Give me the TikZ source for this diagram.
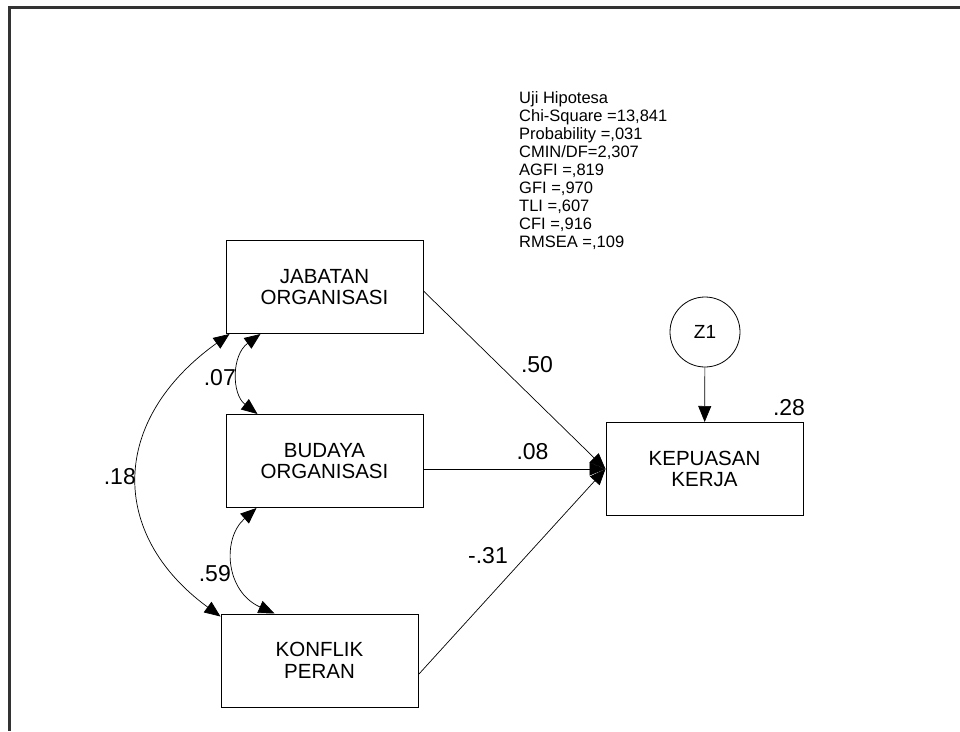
\documentclass[tikz,border=0pt]{standalone}
\usepackage{fontspec}
\setmainfont{Liberation Sans}
\usetikzlibrary{arrows.meta}

\tikzset{
  var/.style={rectangle,draw,line width=1pt,minimum width=197pt,minimum height=93pt,inner sep=0pt,align=center,font=\fontsize{20.5}{21.7}\selectfont},
  err/.style={circle,draw,line width=0.8pt,minimum size=70pt,inner sep=0pt,font=\fontsize{19}{21}\selectfont},
  coef/.style={inner sep=0pt,font=\fontsize{23}{25}\selectfont},
  reg/.style={draw,line width=0.7pt,-{Triangle[length=16pt,width=13pt]}},
  cov/.style={draw,line width=0.7pt,{Triangle[length=16pt,width=13pt]}-{Triangle[length=16pt,width=13pt]}},
}

\begin{document}
\begin{tikzpicture}[x=1pt,y=-1pt]
      \useasboundingbox (0,0) rectangle (960,731);
      \draw[line width=2.5pt,black!80] (960,7.5) -- (9.5,7.5) -- (9.5,731);
      \foreach \pos/\name/\txt in {{(324.5,287)/jabatan/JABATAN\\ORGANISASI}, {(324.5,461)/budaya/BUDAYA\\ORGANISASI}, {(319.5,660.5)/konflik/KONFLIK\\PERAN}, {(704.5,469)/kepuasan/KEPUASAN\\KERJA}}
      \node[var] (\name) at \pos {\txt};
      \node[err] (z1) at (705,332) {Z1};
      \node[anchor=north west,align=left,inner sep=0pt,font=\fontsize{16.5}{18}\selectfont] (fit) at (519,91)
        {Uji Hipotesa\\Chi-Square =13,841\\Probability =,031\\CMIN/DF=2,307\\AGFI =,819\\GFI =,970\\TLI =,607\\CFI =,916\\RMSEA =,109};
      \foreach \source/\dy in {jabatan/-4pt, budaya/-8pt, konflik/-14pt}
      \path[reg] ([yshift=\dy]\source.east) -- (kepuasan.west);
      \path[reg] (z1) -- (kepuasan);
      \path[cov] ([xshift=35pt]jabatan.south west) .. controls +(-29,21) and +(-26,-20) .. ([xshift=32pt]budaya.north west);
      \path[cov] ([xshift=31pt]budaya.south west) .. controls +(-35,31) and +(-49,-22) .. ([xshift=54pt]konflik.north west);
      \path[cov] ([xshift=4pt]jabatan.south west) .. controls +(-120,86) and +(-112,-82) .. ([yshift=-3pt]konflik.north west);
      \node[coef,anchor=east] (c07) at (236,378) {.07};
      \node[coef,anchor=east] (c59) at (231,574) {.59};
      \node[coef,anchor=east] (c18) at (136,477) {.18};
      \node[coef] (c50) at (537,365) {.50};
      \node[coef] (c08) at (532.5,452) {.08};
      \node[coef] (c31) at (488,556) {-.31};
      \node[coef] (r2) at (789,408) {.28};
    \end{tikzpicture}
\end{document}
